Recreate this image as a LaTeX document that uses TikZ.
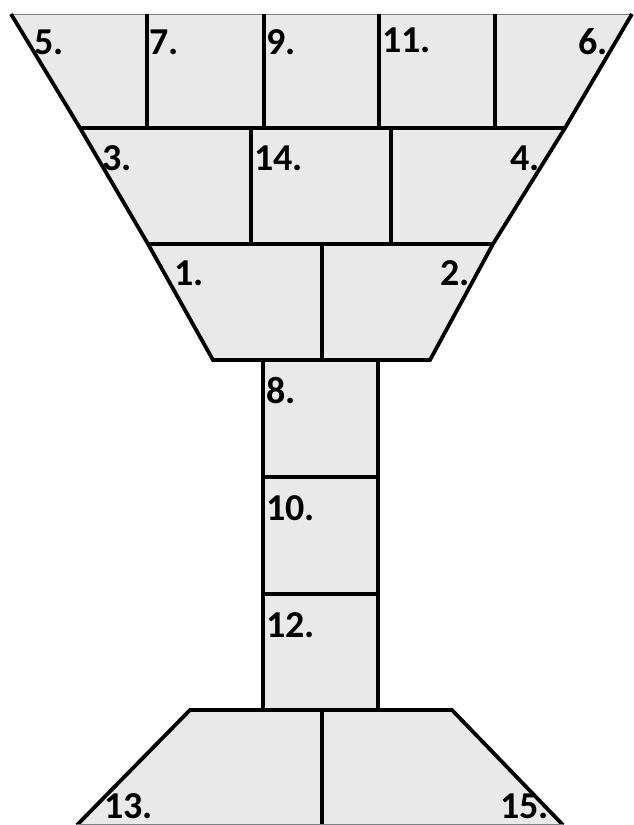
\documentclass[tikz,border=0pt]{standalone}
\usepackage{fontspec}
\setmainfont{Carlito}
\usepackage{xcolor}
\definecolor{cupgray}{HTML}{E9E9E9}
\tikzset{edge/.style={line width=1.9pt, line join=miter}, rim/.style={draw=gray, line width=0.5pt}, num/.style={font=\bfseries\fontsize{19}{20}\selectfont, anchor=base west, inner sep=0pt}}

\begin{document}
\begin{tikzpicture}[x=0.5pt,y=-0.5pt]
\useasboundingbox (0,0) rectangle (633,825);
\fill[cupgray] (11,14) -- (632,14) -- (565,128) -- (493,244) -- (430,360) -- (378,360) -- (378,710) -- (452,710) -- (563,825) -- (77,825) -- (190,710) -- (263,710) -- (263,360) -- (213,360) -- (148,244) -- (80,128) -- cycle;
% cup
\draw[rim] (11,14) -- (632,14);
\draw[edge] (11,14) -- (80,128) -- (148,244) -- (213,360) -- (430,360) -- (493,244) -- (565,128) -- (632,14);
\draw[edge] (80,128) -- (565,128);
\draw[edge] (148,244) -- (493,244);
\foreach \x in {147,264,379,495} \draw[edge] (\x,14) -- (\x,128);
\draw[edge] (251,128) -- (251,244);
\draw[edge] (391,128) -- (391,244);
\draw[edge] (322,244) -- (322,360);
% stem
\draw[edge] (263,360) -- (263,710);
\draw[edge] (378,360) -- (378,710);
\draw[edge] (263,477) -- (378,477);
\draw[edge] (263,594) -- (378,594);
% base
\draw[edge] (77,825) -- (190,710) -- (452,710) -- (563,825);
\draw[edge] (322,710) -- (322,825);
\draw[rim] (77,824.5) -- (563,824.5);
% numbers
\foreach \t/\x/\y in {5/34/54, 7/149/54, 9/266/54, 11/382/52, 6/578/54, 3/102/170, 14/254/170, 4/510/170, 1/174/285, 2/440/285, 8/266/403, 10/266/520, 12/266/637, 13/104/818, 15/500/818}
  \node[num] (n\t) at (\x,\y) {\t.};
\end{tikzpicture}
\end{document}
